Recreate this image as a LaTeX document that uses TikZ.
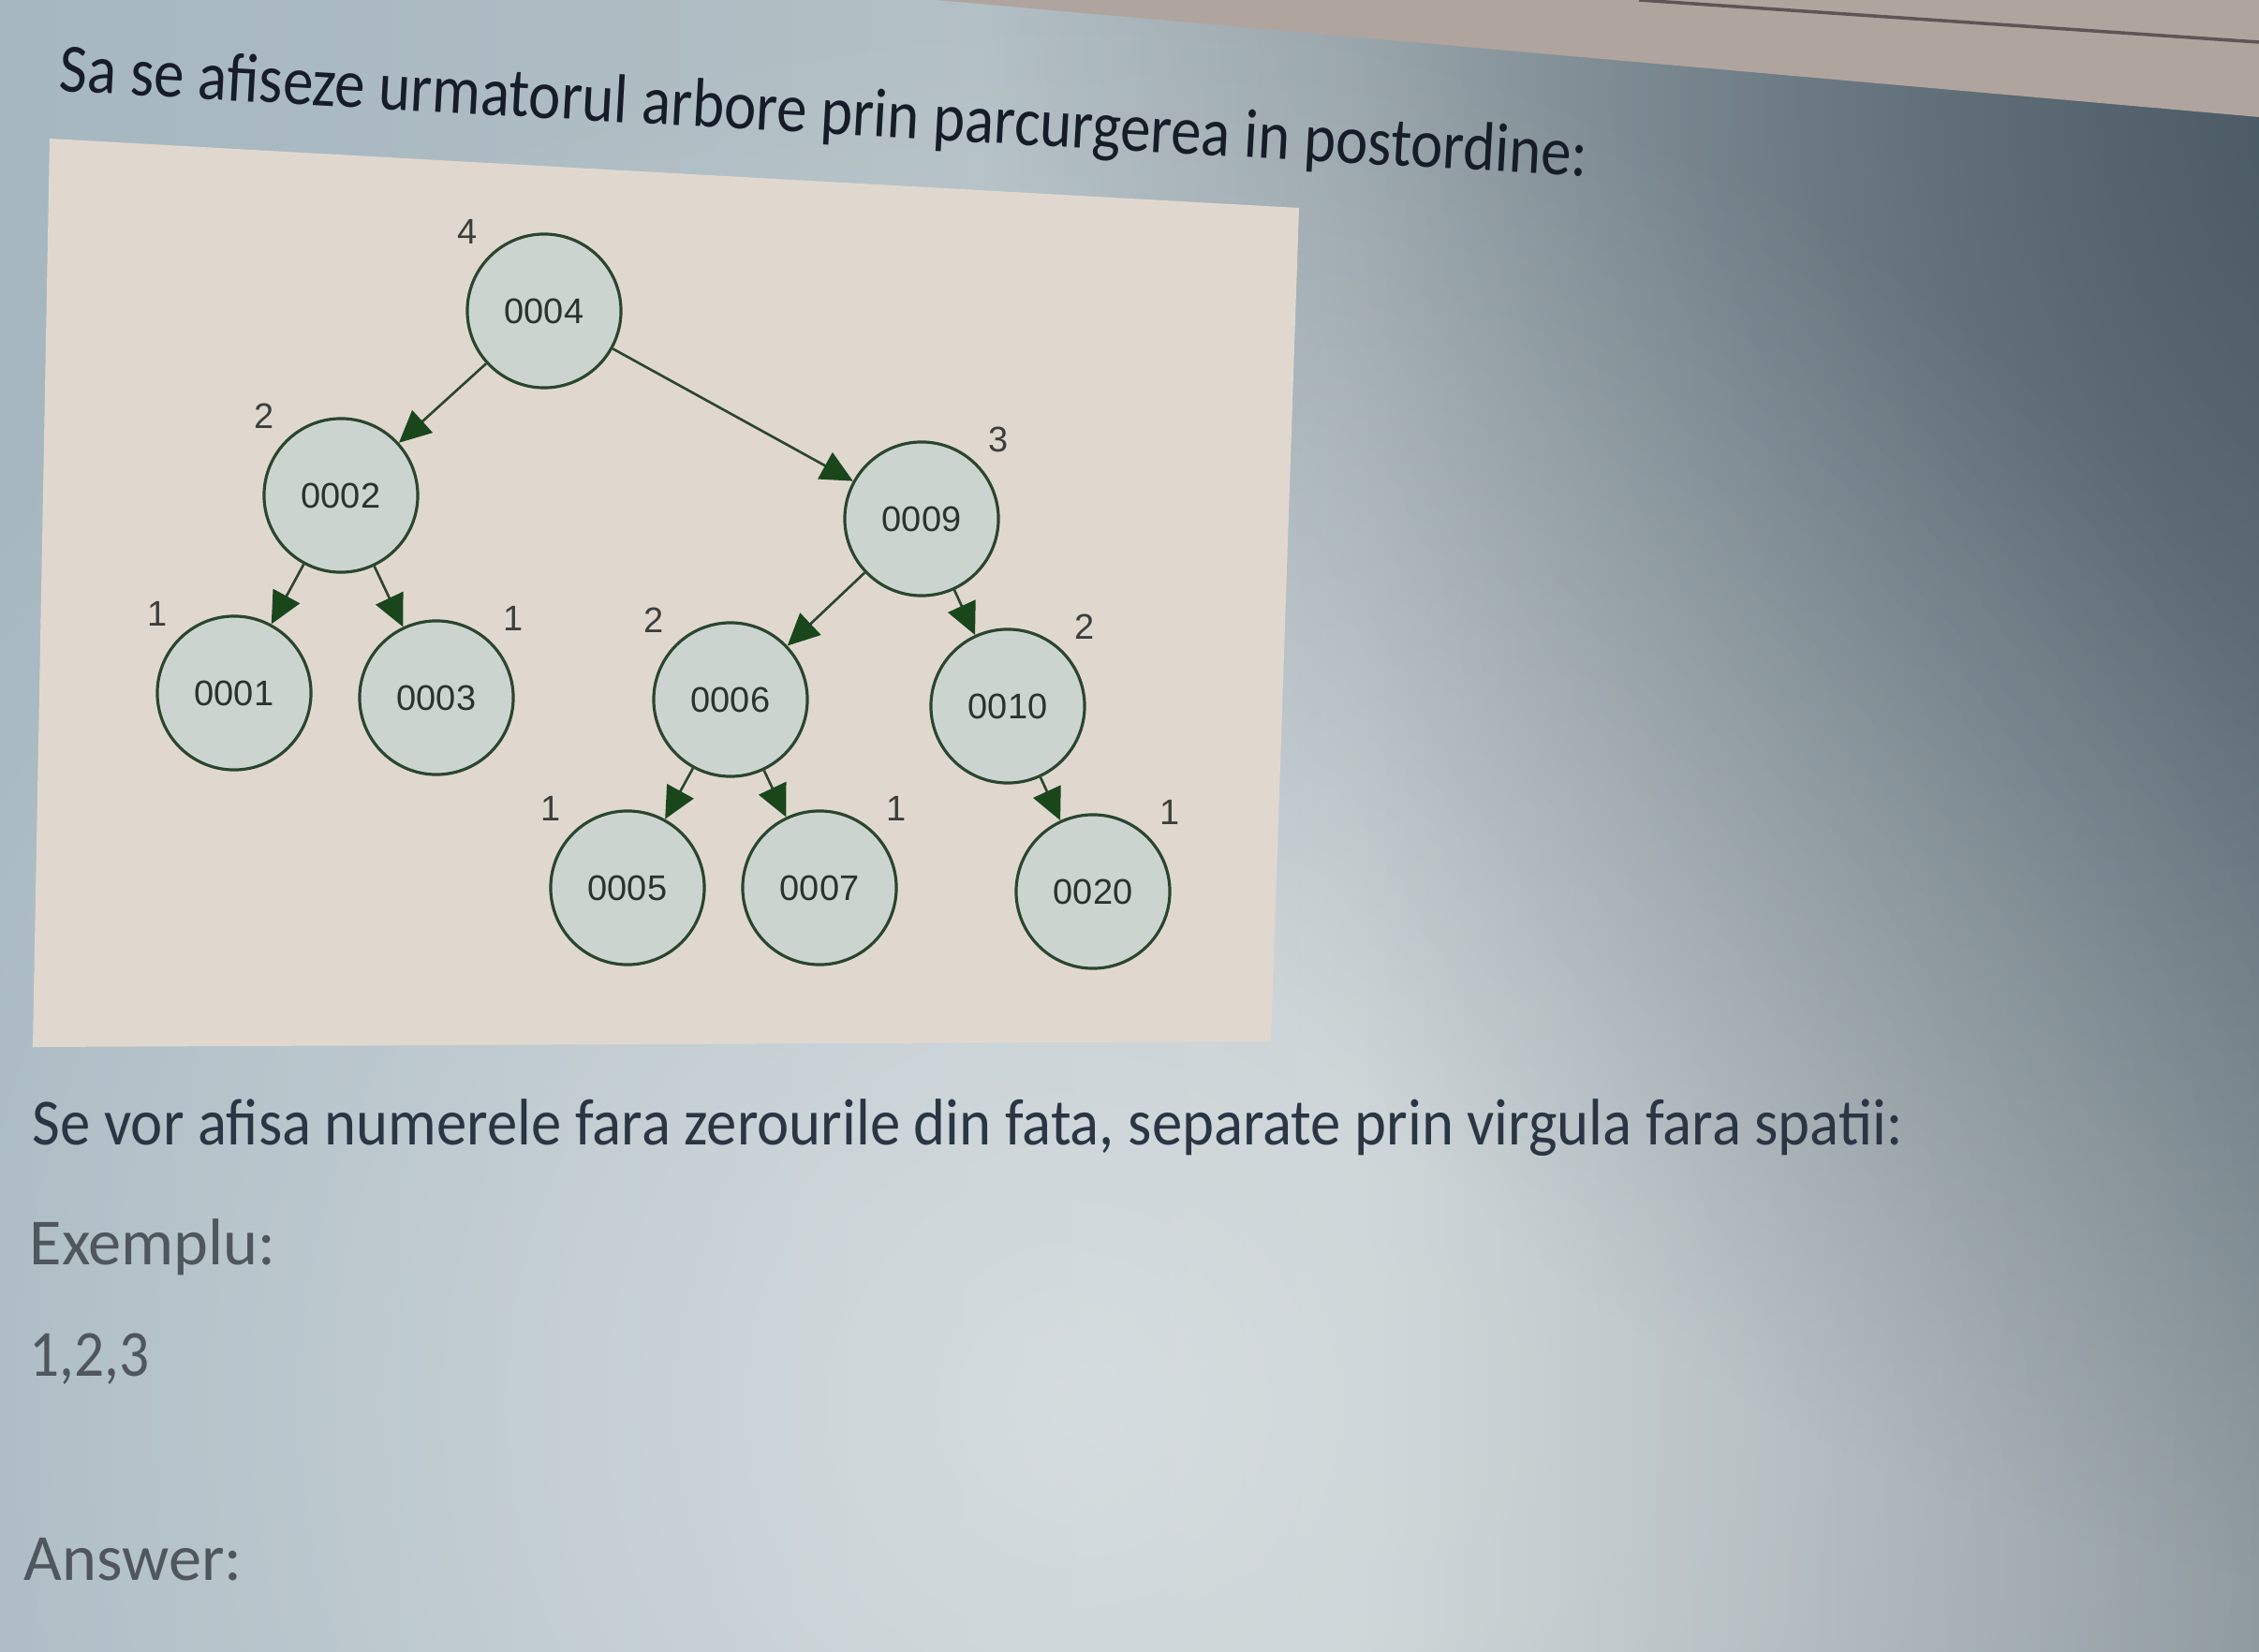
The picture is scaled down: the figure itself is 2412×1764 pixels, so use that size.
\documentclass[tikz,border=0pt]{standalone}
\usepackage{fontspec}
\setmainfont{Carlito}
\newfontfamily\treefont{Liberation Sans}
\usetikzlibrary{arrows.meta,fadings}

\definecolor{bgleft}{RGB}{166,183,192}
\definecolor{bgmid}{RGB}{184,195,199}
\definecolor{bgright}{RGB}{136,148,154}
\definecolor{bgdark}{RGB}{66,82,94}
\definecolor{bezel}{RGB}{176,164,158}
\definecolor{bezelline}{RGB}{95,85,85}
\definecolor{panelbeige}{RGB}{224,216,207}
\definecolor{nodefill}{RGB}{204,212,208}
\definecolor{nodeedge}{RGB}{42,70,46}
\definecolor{edgeline}{RGB}{45,68,48}
\definecolor{arrowgreen}{RGB}{26,70,28}
\definecolor{nodetext}{RGB}{40,52,44}
\definecolor{labeltext}{RGB}{60,62,60}
\definecolor{titletext}{RGB}{22,28,40}
\definecolor{ruletext}{RGB}{42,54,68}
\definecolor{hinttext}{RGB}{80,86,94}

\tikzfading[name=softspot, inner color=transparent!0, outer color=transparent!100]

\begin{document}
\begin{tikzpicture}[x=0.01cm,y=0.01cm,
    treenode/.style={circle,draw=nodeedge,fill=nodefill,line width=0.9pt,
      minimum size=1.64cm,inner sep=0pt,text=nodetext,
      font=\treefont\fontsize{10.8}{12}\selectfont},
    hgt/.style={text=labeltext,font=\treefont\fontsize{10.8}{12}\selectfont},
    edge/.style={draw=edgeline,line width=0.75pt,
      -{Triangle[length=0.34cm,width=0.32cm,color=arrowgreen]}},
    screentext/.style={anchor=base west,inner sep=0pt,font=\fontsize{20}{24}\selectfont},
  ]
  \useasboundingbox (0,0) rectangle (2412,-1764);

  % screen background
  \shade[left color=bgleft,right color=bgmid] (0,0) rectangle (1450,-1764);
  \shade[left color=bgmid,right color=bgright] (1450,0) rectangle (2412,-1764);
  \fill[bgdark,path fading=softspot] (2650,-100) circle (1600);
  \fill[white,path fading=softspot,opacity=0.45] (1150,-1500) circle (1500);
  \fill[bezel] (1000,0) -- (2412,0) -- (2412,-125) -- cycle;
  \draw[bezelline,line width=1pt] (1750,0) -- (2412,-45);

  % tree panel
  \fill[panelbeige] (53,-148) -- (1387,-222) -- (1357,-1112) -- (35,-1118) -- cycle;

  % nodes
  \node[treenode,label={[hgt,name=h4]135:4}] (n4) at (581,-332) {0004};
  \node[treenode,label={[hgt,name=h2]135:2}] (n2) at (364,-529) {0002};
  \node[treenode,label={[hgt,name=h9]45:3}] (n9) at (984,-554) {0009};
  \node[treenode,label={[hgt,name=h1]135:1}] (n1) at (250,-740) {0001};
  \node[treenode,label={[hgt,name=h3]45:1}] (n3) at (466,-745) {0003};
  \node[treenode,label={[hgt,name=h6]135:2}] (n6) at (780,-747) {0006};
  \node[treenode,label={[hgt,name=h10]45:2}] (n10) at (1076,-754) {0010};
  \node[treenode,label={[hgt,name=h5]135:1}] (n5) at (670,-948) {0005};
  \node[treenode,label={[hgt,name=h7]45:1}] (n7) at (875,-948) {0007};
  \node[treenode,label={[hgt,name=h20]45:1}] (n20) at (1167,-952) {0020};

  % edges
  \foreach \from/\to in {n4/n2,n4/n9,n2/n1,n2/n3,n9/n6,n9/n10,n6/n5,n6/n7,n10/n20}
    \draw[edge] (\from) -- (\to);

  % texts
  \node[screentext,text=titletext,rotate=-3.2,font=\fontsize{21}{25}\selectfont] (question) at (62,-97)
    {\scalebox{0.88}[1]{Sa se afiseze urmatorul arbore prin parcurgerea in postordine:}};
  \node[screentext,text=ruletext] (rule) at (34,-1222)
    {\scalebox{0.92}[1]{Se vor afisa numerele fara zerourile din fata, separate prin virgula fara spatii:}};
  \node[screentext,text=hinttext] (example) at (31,-1350) {Exemplu:};
  \node[screentext,text=hinttext] (sample) at (31,-1469) {\scalebox{0.9}[1]{1,2,3}};
  \node[screentext,text=hinttext] (answer) at (25,-1687) {Answer:};
\end{tikzpicture}
\end{document}
